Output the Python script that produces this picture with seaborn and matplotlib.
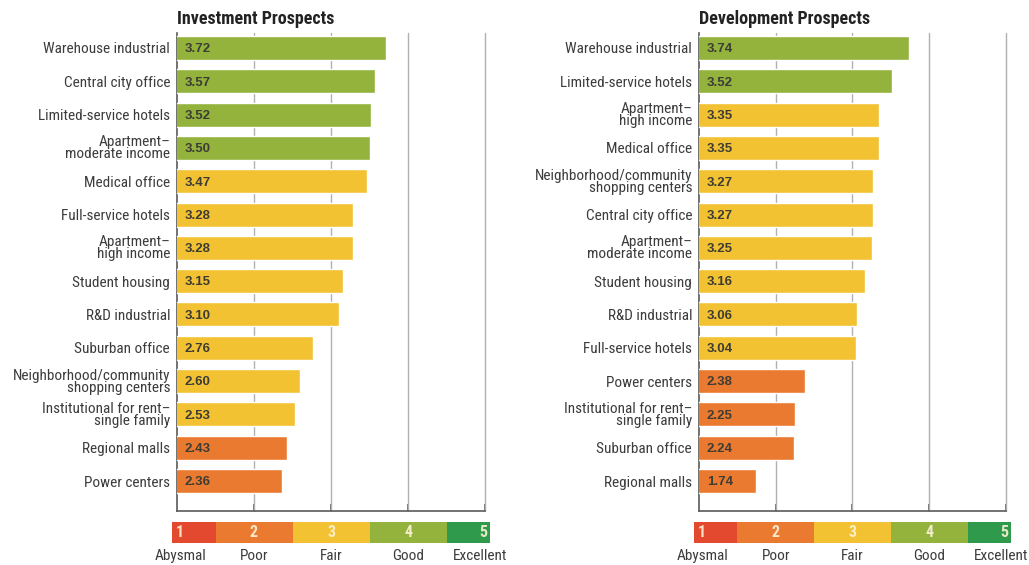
import numpy as np
import pandas as pd
import seaborn as sns
import matplotlib
matplotlib.use("Agg")
import matplotlib.pyplot as plt
from matplotlib import font_manager

inv_cats = ["Warehouse industrial", "Central city office", "Limited-service hotels",
            "Apartment–\nmoderate income", "Medical office", "Full-service hotels",
            "Apartment–\nhigh income", "Student housing", "R&D industrial", "Suburban office",
            "Neighborhood/community\nshopping centers", "Institutional for rent–\nsingle family",
            "Regional malls", "Power centers"]
inv_vals = [3.72, 3.57, 3.52, 3.50, 3.47, 3.28, 3.28, 3.15, 3.10, 2.76, 2.60, 2.53, 2.43, 2.36]

dev_cats = ["Warehouse industrial", "Limited-service hotels", "Apartment–\nhigh income",
            "Medical office", "Neighborhood/community\nshopping centers", "Central city office",
            "Apartment–\nmoderate income", "Student housing", "R&D industrial",
            "Full-service hotels", "Power centers", "Institutional for rent–\nsingle family",
            "Suburban office", "Regional malls"]
dev_vals = [3.74, 3.52, 3.35, 3.35, 3.27, 3.27, 3.25, 3.16, 3.06, 3.04, 2.38, 2.25, 2.24, 1.74]

scale_levels = [1, 2, 3, 4, 5]
scale_labels = ["Abysmal", "Poor", "Fair", "Good", "Excellent"]
scale_colors = ["#e2492f", "#ea7a30", "#f3c233", "#93b33d", "#2f9a4c"]
grid_levels = [2, 3, 4, 5]

sns.set_theme(style="white")
avail = {f.name for f in font_manager.fontManager.ttflist}
narrow = "DejaVu Sans"
for cand in ["Roboto Condensed", "IBM Plex Sans Condensed", "Open Sans Condensed",
             "Liberation Sans Narrow"]:
    if cand in avail:
        narrow = cand
        break
plain = "Liberation Sans" if "Liberation Sans" in avail else "DejaVu Sans"
plt.rcParams['font.family'] = [narrow, 'DejaVu Sans']

W, H = 1029, 565
fig = plt.figure(figsize=(W / 100, H / 100), dpi=100)


def color_for(v):
    return scale_colors[int(np.floor(v + 0.5)) - 1]


def panel(left_px, right_px, cats, vals, title):
    ax = fig.add_axes([left_px / W, 1 - 511 / H, (right_px - left_px) / W, (511 - 33) / H])
    df = pd.DataFrame({"cat": cats, "val": vals})
    pal = {c: color_for(v) for c, v in zip(cats, vals)}
    sns.barplot(data=df, x="val", y="cat", hue="cat", palette=pal, legend=False,
                orient="h", width=0.72, ax=ax, saturation=1, zorder=3)
    ax.set_xlim(1, 5)
    ax.set_ylim(len(cats) - 1 + 0.9, -0.45)
    for g in grid_levels:
        ax.axvline(g, color="#b0b0b0", lw=1, zorder=1, clip_on=False)
    for s in ["top", "right"]:
        ax.spines[s].set_visible(False)
    for s in ["left", "bottom"]:
        ax.spines[s].set_color("#5a5a5a")
        ax.spines[s].set_linewidth(1.2)
    ax.set_xticks(grid_levels)
    ax.set_xticklabels([])
    ax.tick_params(axis="x", direction="in", length=5, width=1.2, color="#5a5a5a", bottom=True)
    ax.set_xlabel("")
    ax.set_ylabel("")
    ax.tick_params(axis="y", length=0, pad=5)
    ax.set_yticks(range(len(cats)))
    ax.set_yticklabels(cats, fontsize=11, color="#3c3c3c", linespacing=0.82)
    for i, v in enumerate(vals):
        ax.text(1.1, i + 0.04, f"{v:.2f}", va="center", ha="left", fontsize=9.5,
                fontweight="bold", family=plain, color="#3d3d35", zorder=4)
    ax.text(1.0, -0.6, title, ha="left", va="bottom", fontsize=13, fontweight="bold",
            color="#222222")

    # scale legend
    lx0 = left_px - 5
    lx1 = right_px + 5
    lax = fig.add_axes([lx0 / W, 1 - 543 / H, (lx1 - lx0) / W, 21 / H])
    unit = (right_px - left_px) / 4
    x_lo = 1 - 5 / unit
    x_hi = 5 + 5 / unit
    lax.set_xlim(x_lo, x_hi)
    lax.set_ylim(0, 1)
    num_shift = {1: 0.04, 5: -0.02}
    lab_shift = {1: 0.05, 5: -0.06}
    for i, (lv, lc) in enumerate(zip(scale_levels, scale_colors)):
        a = max(lv - 0.5, x_lo)
        b = min(lv + 0.5, x_hi)
        lax.barh(0.5, b - a, left=a, height=1, color=lc, edgecolor="none")
        lax.text(lv + num_shift.get(lv, 0), 0.5, str(lv), ha="center", va="center",
                 fontsize=11.5, fontweight="bold", color="#fdf3d8", alpha=0.9)
        lax.text(lv + lab_shift.get(lv, 0), -0.3, scale_labels[i], ha="center", va="top",
                 fontsize=11, color="#3c3c3c")
    lax.axis("off")
    return ax


panel(177, 485, inv_cats, inv_vals, "Investment Prospects")
panel(699, 1006, dev_cats, dev_vals, "Development Prospects")

fig.savefig("out.png", dpi=100)
